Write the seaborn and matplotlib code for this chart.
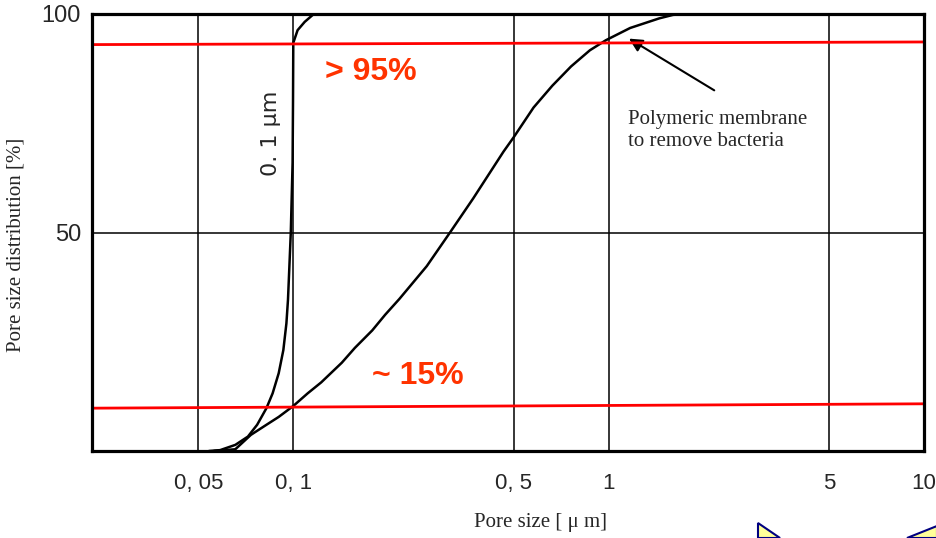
import numpy as np
import matplotlib
matplotlib.use("Agg")
import matplotlib.pyplot as plt
from matplotlib.patches import Polygon
import seaborn as sns

# pore size [um] vs cumulative distribution [%]
sharp_x = [0.054, 0.0586, 0.0655, 0.0718, 0.0768, 0.0822, 0.086, 0.0899, 0.093,
           0.0951, 0.0962, 0.0982, 0.0995, 0.0998, 0.1, 0.1032, 0.1087, 0.1153,
           0.12, 10.0]
sharp_y = [0, 0.2, 1.4, 3.3, 6, 9.8, 13.2, 17.8, 23.1, 29.2, 34.6, 50, 66, 80,
           93.4, 96.3, 98.2, 99.8, 100, 100]

poly_x = [0.056, 0.0655, 0.0734, 0.0822, 0.0899, 0.1, 0.1111, 0.1226, 0.1425,
          0.1568, 0.178, 0.1957, 0.217, 0.265, 0.314, 0.372, 0.464, 0.5, 0.578,
          0.663, 0.76, 0.872, 0.98, 1.17, 1.447, 1.6, 1.75, 10.0]
poly_y = [0, 0.4, 3.7, 6, 7.8, 10.3, 13.2, 15.7, 20.2, 23.6, 27.6, 31.2, 34.8,
          42.3, 50, 57.8, 68.5, 71.8, 78.6, 83.6, 88.0, 91.7, 94.0, 96.8, 99.0,
          99.8, 100, 100]

x_ticks = [0.05, 0.1, 0.5, 1, 5, 10]
x_tick_labels = ["0, 05", "0, 1", "0, 5", "1", "5", "10"]
y_ticks = [50, 100]
y_tick_labels = ["50", "100"]

upper_line = [93.0, 93.6]   # red marker line, left / right end
lower_line = [9.8, 10.8]

sns.set_style("white")
plt.rcParams["font.family"] = ["DejaVu Sans"]
tick_font = ["Liberation Sans", "DejaVu Sans"]
serif = ["Liberation Serif", "DejaVu Serif"]

fig = plt.figure(figsize=(9.37, 5.38), dpi=100)
ax = fig.add_axes([92 / 937, 1 - 451 / 538, 832 / 937, 437 / 538])

sns.lineplot(x=sharp_x, y=sharp_y, ax=ax, color="black", lw=1.8, sort=False,
             estimator=None)
sns.lineplot(x=poly_x, y=poly_y, ax=ax, color="black", lw=1.8, sort=False,
             estimator=None)

ax.set_xscale("log")
ax.set_xlim(0.023, 10)
ax.set_ylim(0, 100)
ax.set_xticks(x_ticks)
ax.set_xticklabels(x_tick_labels, family=tick_font, fontsize=16)
ax.set_yticks(y_ticks)
ax.set_yticklabels(y_tick_labels, family=tick_font, fontsize=17)
ax.minorticks_off()
ax.tick_params(axis="x", length=0, pad=16)
ax.tick_params(axis="y", length=0, pad=8)
ax.grid(True, color="black", lw=1.1)
for s in ax.spines.values():
    s.set_color("black")
    s.set_linewidth(2.3)
    s.set_zorder(5)

# red marker lines
yt = ax.get_yaxis_transform()
ax.plot([0, 1], upper_line, color="#ff0000", lw=2.0, transform=yt, zorder=4)
ax.plot([0, 1], lower_line, color="#ff0000", lw=2.0, transform=yt, zorder=4)

ax.text(0.126, 86.7, "> 95%", color="#ff3300", fontsize=23, fontweight="bold",
        family=tick_font, ha="left", va="center")
ax.text(0.178, 17.2, "~ 15%", color="#ff3300", fontsize=23, fontweight="bold",
        family=tick_font, ha="left", va="center")

ax.text(0.0848, 72.8, "0. 1 \u03bcm", rotation=90, fontsize=16, ha="center",
        va="center", family=["DejaVu Sans"])

ax.text(1.149, 73.3, "Polymeric membrane\nto remove bacteria", fontsize=15,
        family=serif, ha="left", va="center", linespacing=1.2)
ax.annotate("", xy=(1.14, 94.7), xytext=(2.20, 82.2),
            arrowprops=dict(arrowstyle="-|>", color="black", lw=1.5,
                            mutation_scale=20))

fig.text(540 / 937, 1 - 522 / 538, "Pore size [ \u03bc m]", fontsize=15,
         family=serif, ha="center", va="center")
fig.text(16 / 937, 1 - 245 / 538, "Pore size distribution [%]", fontsize=15,
         family=serif, ha="center", va="center", rotation=90)

# yellow slide decorations at the bottom right
for pts in [[(758, 523), (758, 538), (780, 538)],
            [(907, 538), (937, 526), (937, 538)]]:
    fig.patches.append(Polygon([(px / 937, 1 - py / 538) for px, py in pts],
                               closed=True, transform=fig.transFigure,
                               facecolor="#ffff99", edgecolor="#000080", lw=1.5))

fig.savefig("out.png", dpi=100, facecolor="white")
